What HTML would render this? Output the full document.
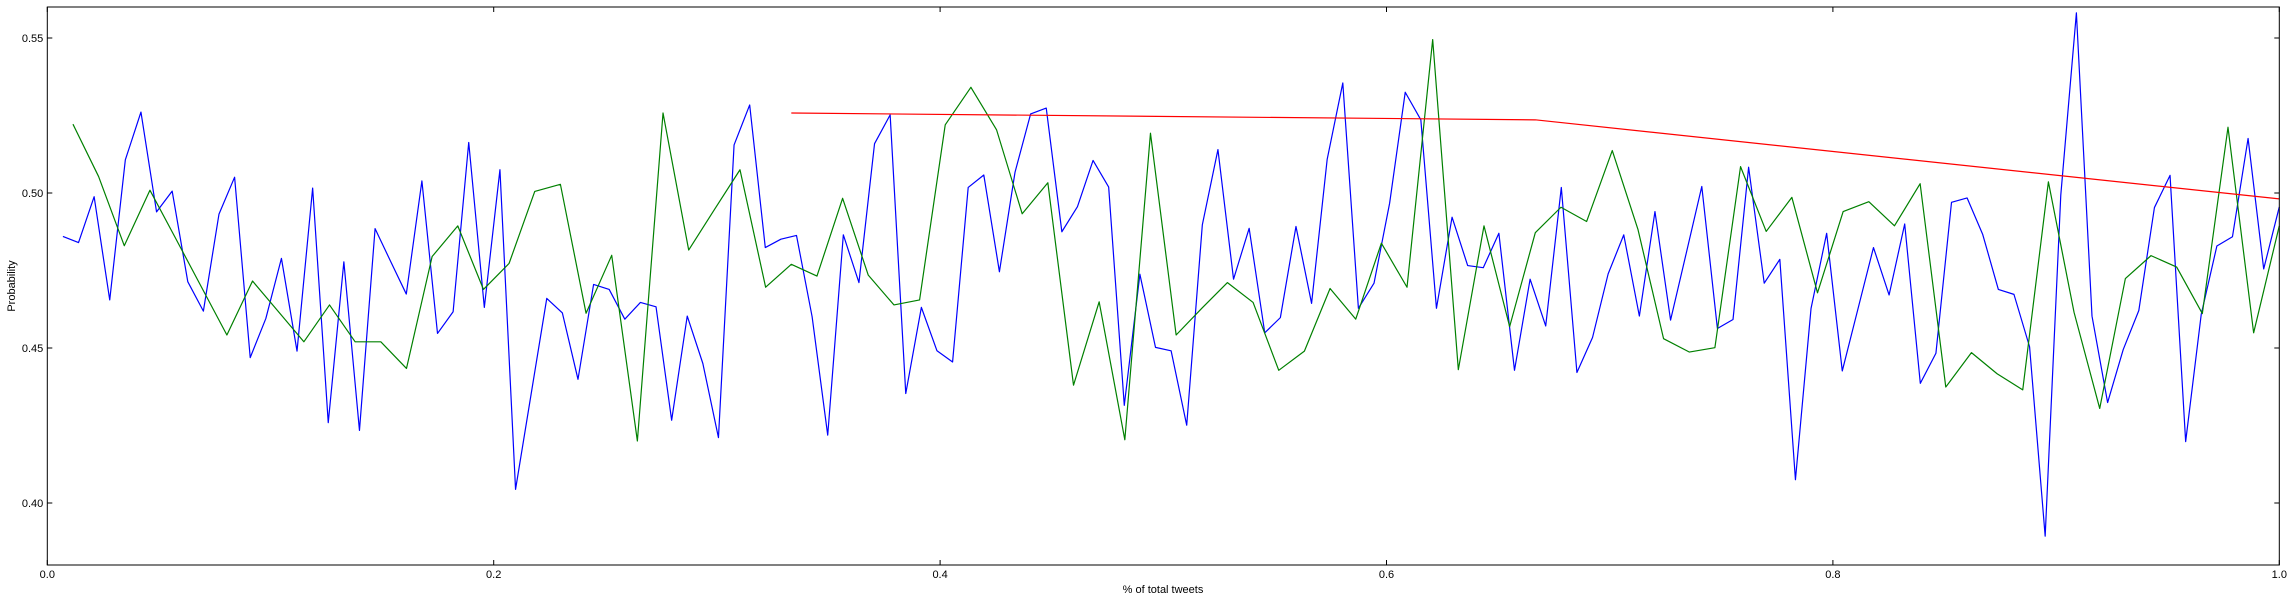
<!DOCTYPE html>
<html>
<head>
<meta charset="utf-8">
<style>
html,body{margin:0;padding:0;background:#fff;}
svg{display:block;}
text{font-family:"Liberation Sans",sans-serif;fill:#000;}
</style>
</head>
<body>
<svg id="chart" width="2293" height="601" viewBox="0 0 2293 601" xmlns="http://www.w3.org/2000/svg">
  <rect x="0" y="0" width="2293" height="601" fill="#fff"/>
  <g id="series"></g>
  <g id="axes"></g>
  <text x="1163" y="593" text-anchor="middle" font-size="11">% of total tweets</text>
  <text transform="translate(15,286) rotate(-90)" text-anchor="middle" font-size="11">Probability</text>
</svg>
<script>
const blueValues = [
0.4860,0.4840,0.4988,0.4655,0.5107,0.5261,0.4939,0.5006,0.4714,0.4619,0.4932,0.5051,0.4469,0.4595,
0.4789,0.4490,0.5016,0.4259,0.4778,0.4234,0.4885,0.4779,0.4674,0.5039,0.4547,0.4617,0.5163,0.4631,
0.5075,0.4044,0.4352,0.4660,0.4613,0.4399,0.4705,0.4689,0.4593,0.4647,0.4633,0.4267,0.4603,0.4450,0.4211,
0.5155,0.5284,0.4824,0.4851,0.4863,0.4601,0.4219,0.4865,0.4711,0.5159,0.5252,0.4353,0.4631,0.4491,
0.4455,0.5018,0.5058,0.4746,0.5067,0.5255,0.5274,0.4875,0.4956,0.5105,0.5019,0.4315,0.4738,0.4502,0.4491,
0.4251,0.4897,0.5140,0.4722,0.4886,0.4549,0.4598,0.4892,0.4644,0.5109,0.5355,0.4628,0.4709,0.4967,0.5325,
0.5236,0.4628,0.4922,0.4766,0.4759,0.4870,0.4428,0.4722,0.4571,0.5018,0.4421,0.4534,0.4739,0.4865,0.4603,0.4940,
0.4590,0.4805,0.5021,0.4563,0.4592,0.5083,0.4709,0.4786,0.4075,0.4628,0.4870,0.4426,0.4625,0.4824,0.4671,
0.4900,0.4386,0.4483,0.4970,0.4984,0.4866,0.4689,0.4673,0.4504,0.3893,0.4993,0.5581,0.4603,0.4324,0.4495,
0.4621,0.4953,0.5057,0.4198,0.4609,0.4829,0.4859,0.5176,0.4755,0.4955
];
const greenValues = [
0.5222,0.5053,0.4830,0.5009,0.4854,0.4698,0.4542,0.4716,
0.4618,0.4520,0.4639,0.4520,0.4520,0.4434,0.4795,0.4894,0.4689,
0.4773,0.5005,0.5028,0.4612,0.4799,0.4200,0.5258,0.4816,0.4946,
0.5075,0.4696,0.4770,0.4732,0.4983,0.4735,0.4639,0.4655,0.5220,
0.5341,0.5204,0.4933,0.5033,0.4380,0.4649,0.4204,0.5193,
0.4542,0.4628,0.4711,0.4647,0.4428,0.4490,0.4692,0.4593,0.4838,0.4696,
0.5495,0.4430,0.4894,0.4569,0.4872,0.4954,0.4908,0.5137,0.4883,
0.4530,0.4487,0.4501,0.5085,0.4876,0.4986,0.4678,0.4940,0.4972,0.4894,
0.5030,0.4374,0.4485,0.4417,0.4365,0.5036,0.4615,0.4305,0.4724,0.4798,0.4761,0.4611,0.5212,0.4549,0.4894
];
const redX = [1/3, 2/3, 1.0];
const redValues = [0.5258, 0.5236, 0.4981];
const xTicks = [0.0, 0.2, 0.4, 0.6, 0.8, 1.0];
const xTickLabels = ["0.0","0.2","0.4","0.6","0.8","1.0"];
const yTicks = [0.40, 0.45, 0.50, 0.55];
const yTickLabels = ["0.40","0.45","0.50","0.55"];

const PL = 47.3, PR = 2279.3, PT = 7, PB = 565;
const XMIN = 0, XMAX = 1, YMIN = 0.38, YMAX = 0.56;
function xs(v){ return PL + (v - XMIN) / (XMAX - XMIN) * (PR - PL); }
function ys(v){ return PB - (v - YMIN) / (YMAX - YMIN) * (PB - PT); }
const NS = "http://www.w3.org/2000/svg";
const series = document.getElementById('series');
const axes = document.getElementById('axes');

function drawLine(xvals, yvals, color, name){
  const p = document.createElementNS(NS, 'polyline');
  p.setAttribute('points', xvals.map((x,i)=> xs(x).toFixed(2)+','+ys(yvals[i]).toFixed(2)).join(' '));
  p.setAttribute('fill','none');
  p.setAttribute('stroke', color);
  p.setAttribute('stroke-width','1.2');
  p.setAttribute('stroke-linejoin','round');
  
  
  series.appendChild(p);
}
const blueX = blueValues.map((v,i)=> (i+1)/blueValues.length);
const greenX = greenValues.map((v,i)=> (i+1)/greenValues.length);
drawLine(blueX, blueValues, '#0000ff', 'blue-series-line');
drawLine(greenX, greenValues, '#008000', 'green-series-line');
drawLine(redX, redValues, '#ff0000', 'red-series-line');

const frame = document.createElementNS(NS,'rect');
frame.setAttribute('x', PL); frame.setAttribute('y', PT);
frame.setAttribute('width', PR-PL); frame.setAttribute('height', PB-PT);
frame.setAttribute('fill','none'); frame.setAttribute('stroke','#000'); frame.setAttribute('stroke-width','1');


axes.appendChild(frame);

function mk(tag, attrs){ const e = document.createElementNS(NS, tag); for (const k in attrs) e.setAttribute(k, attrs[k]); return e; }

xTicks.forEach((t,i)=>{
  const x = xs(t);
  const t1 = mk('line',{x1:x,y1:PB,x2:x,y2:PB-5,stroke:'#000','stroke-width':1});
  
  
  axes.appendChild(t1);
  const t2 = mk('line',{x1:x,y1:PT,x2:x,y2:PT+5,stroke:'#000','stroke-width':1});
  
  
  axes.appendChild(t2);
  const lb = mk('text',{x:x,y:PB+13,'text-anchor':'middle','font-size':11});
  lb.textContent = xTickLabels[i];
  
  
  axes.appendChild(lb);
});
yTicks.forEach((t,i)=>{
  const y = ys(t);
  const t1 = mk('line',{x1:PL,y1:y,x2:PL+5,y2:y,stroke:'#000','stroke-width':1});
  
  
  axes.appendChild(t1);
  const t2 = mk('line',{x1:PR,y1:y,x2:PR-5,y2:y,stroke:'#000','stroke-width':1});
  
  
  axes.appendChild(t2);
  const lb = mk('text',{x:PL-4,y:y+4,'text-anchor':'end','font-size':11});
  lb.textContent = yTickLabels[i];
  
  
  axes.appendChild(lb);
});
</script>
</body>
</html>
